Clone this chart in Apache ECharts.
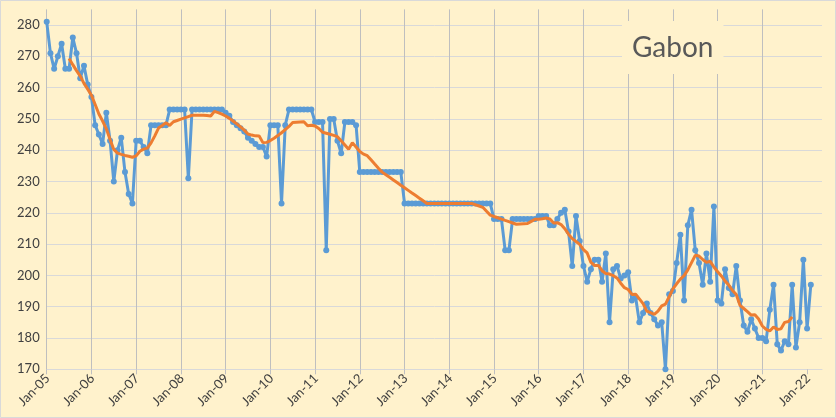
<!DOCTYPE html>
<html><head><meta charset="utf-8">
<script src="https://cdn.jsdelivr.net/npm/echarts@6/dist/echarts.min.js"></script>
<style>html,body{margin:0;padding:0;background:#FFF2CC}#c{width:836px;height:418px}</style>
</head><body><div id="c"></div>
<script>
const chartTitle = 'Gabon';
const tickLabels = ['Jan-05','Jan-06','Jan-07','Jan-08','Jan-09','Jan-10','Jan-11','Jan-12','Jan-13',
  'Jan-14','Jan-15','Jan-16','Jan-17','Jan-18','Jan-19','Jan-20','Jan-21','Jan-22'];
const yTicks = [170,180,190,200,210,220,230,240,250,260,270,280];
// monthly values, Jan-05 .. Feb-22
const production = [
  281,271,266,270,274,266,266,276,271,263,267,261,
  257,248,245,242,252,243,230,240,244,233,226,223,
  243,243,241,239,248,248,248,248,248,253,253,253,
  253,253,231,253,253,253,253,253,253,253,253,253,
  252,251,249,248,247,246,244,243,242,241,241,238,
  248,248,248,223,248,253,253,253,253,253,253,253,
  249,249,249,208,250,250,243,239,249,249,249,248,
  233,233,233,233,233,233,233,233,233,233,233,233,
  223,223,223,223,223,223,223,223,223,223,223,223,
  223,223,223,223,223,223,223,223,223,223,223,223,
  218,218,218,208,208,218,218,218,218,218,218,218,
  219,219,219,216,216,218,220,221,214,203,219,211,
  203,198,202,205,205,198,207,185,202,203,199,200,
  201,192,193,185,188,191,188,186,184,185,170,194,
  195,204,213,192,216,221,208,204,197,207,198,222,
  192,191,202,196,194,203,192,184,182,186,183,180,
  180,179,189,197,178,176,179,178,197,177,185,205,
  183,197
];
// 12-month average line, first point at Jul-05 (month index 6), last at Sep-21
const maStartMonth = 6;
const movingAverage = [
  269.33,267.33,265.42,263.67,261.33,259.5,
  257.58,254.58,251.58,249.33,246.83,243.42,240.25,239.08,238.67,238.33,238.08,237.75,
  238.17,239.67,240.33,240.67,242.33,244.58,247.08,247.92,248.75,247.92,249.08,249.5,
  249.92,250.33,250.75,251.17,251.17,251.17,251.17,251.08,250.92,252.42,252,251.5,
  250.92,250.17,249.33,248.42,247.42,246.42,245.17,244.83,244.58,244.5,242.42,242.5,
  243.08,243.83,244.67,245.58,246.58,247.58,248.83,248.92,249,249.08,247.83,248,
  247.75,246.92,245.75,245.42,245.08,244.75,244.33,243,241.67,240.33,242.42,241,
  239.58,238.75,238.25,236.92,235.58,234.25,233,232.17,231.33,230.5,229.67,228.83,
  228,227.17,226.33,225.5,224.67,223.83,223,223,223,223,223,223,
  223,223,223,223,223,223,223,222.58,222.17,221.75,220.5,219.25,
  218.83,218.42,218,217.58,217.17,216.75,216.33,216.42,216.5,216.58,217.25,217.92,
  217.92,218.08,218.33,218,216.75,216.83,216.25,214.92,213.17,211.75,210.83,209.92,
  208.25,207.17,204.17,203.17,203.17,201.5,200.58,200.42,199.92,199.17,197.5,196.08,
  195.5,193.92,194,192.5,191,188.58,188.08,187.58,188.58,190.25,190.83,193.17,
  195.67,197.33,198.83,199.92,201.75,204.08,206.42,206.17,205.08,204.17,204.5,202.67,
  201.17,199.83,198.17,196.92,195.17,193.92,190.42,189.42,188.42,187.33,187.42,186.08,
  183.83,182.75,182.25,183.5,182.75,182.92,185,185.25,186.75
];

const prodData = production.map((v, i) => [i, v]);
const maData = movingAverage.map((v, i) => [i + maStartMonth, v]);
const xTickValues = tickLabels.map((_, i) => i * 12);
const Y_MIN = 170;
// label items: padded with an empty item before and after the real year labels
const labelItems = [{value: [-12, Y_MIN], text: ''}]
  .concat(xTickValues.map((v, i) => ({value: [v, Y_MIN], text: tickLabels[i]})))
  .concat([{value: [216, Y_MIN], text: ''}]);

const chart = echarts.init(document.getElementById('c'), null, {renderer: 'canvas'});
chart.setOption({
  backgroundColor: '#FFF2CC',
  animation: false,
  graphic: [{
    type: 'rect', silent: true, z: 100,
    shape: {x: 0.5, y: 0.5, width: 835, height: 417},
    style: {fill: null, stroke: '#d9d9d9', lineWidth: 1}
  }],
  title: {
    text: chartTitle, left: 622, top: 21, padding: [9, 10],
    backgroundColor: '#FFF2CC', z: 10,
    textStyle: {fontFamily: 'Lato', fontSize: 28, fontWeight: 'normal', color: '#595959', lineHeight: 35}
  },
  grid: {left: 46.7, right: 14, top: 9.35, bottom: 48.7, containLabel: false, outerBoundsMode: 'none'},
  xAxis: {
    type: 'value', min: 0, max: 208, interval: 12,
    axisLine: {show: true, lineStyle: {color: '#d9d9d9', width: 1}},
    axisTick: {show: true, length: 5, lineStyle: {color: '#bfbfbf'}, customValues: xTickValues},
    axisLabel: {show: false},
    splitLine: {show: true, showMaxLine: false, lineStyle: {color: '#bfbfbf', width: 1}}
  },
  yAxis: {
    type: 'value', min: Y_MIN, max: 285, interval: 10,
    axisLine: {show: false}, axisTick: {show: false},
    axisLabel: {
      fontFamily: 'Lato', fontSize: 13, color: '#404040', margin: 7,
      formatter: v => yTicks.indexOf(v) >= 0 ? String(v) : ''
    },
    splitLine: {show: true, showMaxLine: false, lineStyle: {color: '#d9d9d9', width: 1}}
  },
  series: [
    {
      name: 'Production', type: 'line', data: prodData,
      symbol: 'circle', symbolSize: 6, showSymbol: true,
      lineStyle: {color: '#5B9BD5', width: 3},
      itemStyle: {color: '#5B9BD5'}, z: 2
    },
    {
      name: '12-month average', type: 'line', data: maData,
      symbol: 'none', showSymbol: false,
      lineStyle: {color: '#ED7D31', width: 3},
      itemStyle: {color: '#ED7D31'}, z: 3
    },
    {
      // rotated year labels under the x axis, placed through the axis scale
      name: 'xLabels', type: 'custom', silent: true, clip: false, z: 5,
      data: labelItems.map(d => d.value),
      encode: {x: 0, y: 1},
      renderItem: (params, api) => {
        const p = api.coord([api.value(0), api.value(1)]);
        return {
          type: 'text', x: p[0] + 1, y: p[1] + 7, rotation: Math.PI / 4,
          style: {
            text: labelItems[params.dataIndex].text, align: 'right', verticalAlign: 'middle',
            fill: '#404040', fontFamily: 'Lato', fontSize: 13
          }
        };
      }
    }
  ]
});
</script>
</body></html>
